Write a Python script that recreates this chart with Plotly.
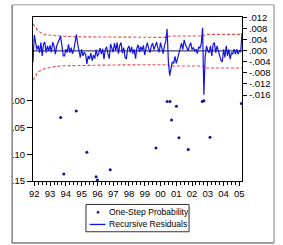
import plotly.graph_objects as go

# ---------------- data ----------------
start_year = 1991 + 11 / 12          # first observation 1991m12 (monthly)
residuals = [
    -0.0041, 0.0058, 0.0030, 0.0005, 0.0020, -0.0006, 0.0030, -0.0018, 0.0025, 0.0032, -0.0006, 0.0018,
    0.0000, 0.0020, -0.0005, 0.0032, 0.0018, -0.0012, 0.0018, 0.0030, 0.0044, 0.0053, 0.0020, -0.0018,
    -0.0018, 0.0006, -0.0006, 0.0024, -0.0006, 0.0012, -0.0010, 0.0002, 0.0030, 0.0059, 0.0025, -0.0006,
    -0.0024, 0.0006, -0.0018, -0.0005, -0.0012, -0.0047, -0.0018, -0.0030, -0.0008, -0.0035, -0.0015, -0.0028,
    0.0005, -0.0020, -0.0010, 0.0010, -0.0012, 0.0008, -0.0030, 0.0005, 0.0015, -0.0010, -0.0028, 0.0025,
    0.0010, -0.0005, 0.0028, 0.0002, 0.0030, -0.0010, 0.0020, 0.0030, -0.0008, 0.0012, -0.0022, -0.0030,
    0.0008, 0.0018, -0.0005, 0.0015, -0.0010, 0.0006, -0.0028, 0.0010, 0.0022, -0.0004, 0.0015, 0.0002,
    0.0020, -0.0015, 0.0012, 0.0030, 0.0008, -0.0006, 0.0018, 0.0028, 0.0005, 0.0020, 0.0032, 0.0010,
    -0.0005, 0.0030, 0.0012, -0.0010, 0.0018, 0.0035, 0.0079, -0.0040, -0.0090, -0.0065, -0.0040, -0.0045,
    -0.0020, -0.0045, -0.0025, -0.0004, 0.0018, 0.0028, 0.0005, 0.0040, 0.0022, 0.0010, 0.0000, 0.0018,
    0.0030, 0.0005, 0.0012, 0.0000, 0.0006, -0.0010, 0.0015, 0.0010, 0.0025, 0.0084, -0.0159, -0.0018,
    0.0018, 0.0000, -0.0006, 0.0018, -0.0018, 0.0024, 0.0030, -0.0006, 0.0018, 0.0000, -0.0018, -0.0035,
    -0.0040, 0.0006, -0.0024, 0.0018, -0.0018, 0.0006, -0.0030, -0.0006, -0.0012, 0.0006, -0.0012, 0.0006,
    -0.0012, 0.0002, -0.0004, 0.0065,
]
res_dates = [start_year + i / 12 for i in range(len(residuals))]

band_dates = [1991.917, 1992.08, 1992.25, 1992.62, 1993.2, 1993.8, 1995.0, 1997.0,
              2000.45, 2000.55, 2002.75, 2002.85, 2005.167]
band_upper = [0.0098, 0.0085, 0.0072, 0.0059, 0.0055, 0.0053, 0.0051, 0.0050,
              0.0049, 0.0054, 0.0054, 0.0060, 0.0060]
band_lower = [-0.0106, -0.0090, -0.0076, -0.0065, -0.0058, -0.0054, -0.0052, -0.0051,
              -0.0050, -0.0055, -0.0055, -0.0062, -0.0062]

prob_dates = [1993.67, 1993.87, 1994.66, 1995.33, 1995.92, 1996.00, 1996.81, 1999.71,
              2000.42, 2000.60, 2000.70, 2001.01, 2001.17, 2001.76, 2002.65, 2002.75,
              2003.14, 2005.13]
prob_vals = [0.031, 0.137, 0.019, 0.096, 0.142, 0.148, 0.129, 0.088,
             0.001, 0.001, 0.036, 0.010, 0.069, 0.091, 0.001, 0.000,
             0.068, 0.005]

year_ticks = list(range(1992, 2006))
year_labels = ["92", "93", "94", "95", "96", "97", "98", "99", "00", "01", "02", "03", "04", "05"]
prob_ticks = [0.0, 0.05, 0.10, 0.15]
prob_labels = [".00", ".05", ".10", ".15"]
res_ticks = [-0.016, -0.012, -0.008, -0.004, 0.0, 0.004, 0.008, 0.012]
res_labels = ["-.016", "-.012", "-.008", "-.004", ".000", ".004", ".008", ".012"]

# ---------------- figure ----------------
W, H = 283, 245
L, R, T, B = 23, 35, 13, 64
PW, PH = W - L - R, H - T - B

def px(xp):
    return (xp - L) / PW

def py(yp):
    return (H - B - yp) / PH

FONT = "Liberation Sans, Arial, sans-serif"

fig = go.Figure()
fig.add_trace(go.Scatter(x=band_dates, y=band_upper, yaxis="y2", mode="lines",
                         line=dict(color="#e84848", width=1.1, dash="3px,2px"), showlegend=False))
fig.add_trace(go.Scatter(x=band_dates, y=band_lower, yaxis="y2", mode="lines",
                         line=dict(color="#e84848", width=1.1, dash="3px,2px"), showlegend=False))
fig.add_trace(go.Scatter(x=res_dates, y=residuals, yaxis="y2", mode="lines",
                         line=dict(color="#1414e0", width=1.2), showlegend=False))
fig.add_trace(go.Scatter(x=prob_dates, y=prob_vals, yaxis="y", mode="markers",
                         marker=dict(color="#14148c", size=3, symbol="circle"), showlegend=False))

shapes = [
    # zero line of residuals
    dict(type="line", xref="paper", x0=0, x1=1, yref="y2", y0=0, y1=0,
         line=dict(color="#101040", width=1), layer="below"),
    # outer frame
    dict(type="line", xref="paper", yref="paper", x0=px(0.5), x1=px(0.5), y0=py(0.5), y1=py(244.5),
         line=dict(color="#404040", width=1)),
    dict(type="line", xref="paper", yref="paper", x0=px(0.5), x1=px(282.5), y0=py(244.5), y1=py(244.5),
         line=dict(color="#404040", width=1)),
    dict(type="line", xref="paper", yref="paper", x0=px(0.5), x1=px(282.5), y0=py(0.5), y1=py(0.5),
         line=dict(color="#a0a0a0", width=1)),
    dict(type="line", xref="paper", yref="paper", x0=px(282.5), x1=px(282.5), y0=py(0.5), y1=py(244.5),
         line=dict(color="#808080", width=1)),
    # legend box
    dict(type="rect", xref="paper", yref="paper", x0=px(80), x1=px(191), y0=py(233), y1=py(205),
         line=dict(color="#303030", width=1), fillcolor="white"),
    dict(type="circle", xref="paper", yref="paper", x0=px(91.8), x1=px(94.2), y0=py(214.2), y1=py(211.8),
         line=dict(color="#14148c", width=0.5), fillcolor="#14148c"),
    dict(type="line", xref="paper", yref="paper", x0=px(84), x1=px(101), y0=py(225.5), y1=py(225.5),
         line=dict(color="#1414e0", width=1.3)),
]

annotations = [
    dict(text="One-Step Probability", xref="paper", yref="paper", x=px(103), y=py(213),
         xanchor="left", yanchor="middle", showarrow=False, font=dict(family=FONT, size=8.6, color="black")),
    dict(text="Recursive Residuals", xref="paper", yref="paper", x=px(103), y=py(225.5),
         xanchor="left", yanchor="middle", showarrow=False, font=dict(family=FONT, size=8.6, color="black")),
]

fig.update_layout(
    width=W, height=H, margin=dict(l=L, r=R, t=T, b=B, pad=0),
    paper_bgcolor="white", plot_bgcolor="white",
    showlegend=False, shapes=shapes, annotations=annotations,
    font=dict(family=FONT, size=9, color="black"),
    xaxis=dict(range=[start_year, 2005 + 2 / 12], tickmode="array", tickvals=year_ticks,
               ticktext=year_labels, ticks="outside", ticklen=4, tickcolor="black", tickwidth=1,
               showline=True, linecolor="black", linewidth=1, mirror=True,
               showgrid=False, zeroline=False, tickfont=dict(family=FONT, size=9.5),
               minor=dict(ticks="outside", ticklen=2.5, tickcolor="black",
                          tickvals=[y + q / 4 for y in range(1991, 2006) for q in range(4)])),
    yaxis=dict(range=[0.15, -0.157], tickmode="array", tickvals=prob_ticks, ticktext=prob_labels,
               ticks="outside", ticklen=5, tickcolor="black", showline=True, linecolor="black",
               linewidth=1, showgrid=False, zeroline=False, tickfont=dict(family=FONT, size=9.5)),
    yaxis2=dict(range=[-0.0472, 0.0123], overlaying="y", side="right", tickmode="array",
                tickvals=res_ticks, ticktext=res_labels, ticks="outside", ticklen=4,
                tickcolor="black", showline=True, linecolor="black", linewidth=1,
                showgrid=False, zeroline=False, tickfont=dict(family=FONT, size=9.5)),
)

fig.write_html("out.html")
